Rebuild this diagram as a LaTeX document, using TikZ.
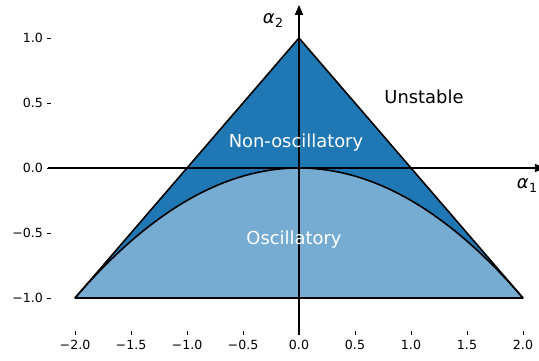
\documentclass[tikz,border=0pt]{standalone}
\usepackage{fontspec}
\setmainfont{DejaVu Sans}
\usetikzlibrary{arrows.meta}
\definecolor{cdark}{HTML}{1F77B4}
\definecolor{clight}{HTML}{76ABD2}
\tikzset{
  axisline/.style={line width=1.5pt, -{Triangle[length=10pt,width=8pt]}},
  outline/.style={line width=1.6pt, black, line join=round},
  tickmark/.style={line width=0.8pt, black},
  ticklab/.style={inner sep=0pt, font=\fontsize{12.6}{14}\selectfont},
  biglab/.style={inner sep=0pt, font=\fontsize{17.9}{20}\selectfont},
}
\newcommand{\alab}[1]{{\itshape α}\kern0.5pt\raisebox{-0.22em}{\fontsize{12.6}{14}\selectfont #1}}
\begin{document}
\begin{tikzpicture}
\useasboundingbox (0,0) rectangle (539pt,361pt);
\begin{scope}[shift={(299pt,193pt)}, x=112pt, y=130pt]
  % key points
  \coordinate (L) at (-2,-1);
  \coordinate (T) at (0,1);
  \coordinate (R) at (2,-1);
  \coordinate (xs) at (-2.241,0);
  \coordinate (xe) at (2.196,0);
  \coordinate (ys) at (0,-1.285);
  \coordinate (ye) at (0,1.255);
  % regions
  \fill[cdark] (L) -- (T) -- (R) -- cycle;
  \fill[clight] (L) .. controls (-2/3,1/3) and (2/3,1/3) .. (R) -- cycle;
  % axes
  \draw[axisline] (xs) -- (xe);
  \draw[axisline] (ys) -- (ye);
  % outlines
  \draw[outline] (L) -- (T) -- (R) -- cycle;
  \draw[outline] (L) .. controls (-2/3,1/3) and (2/3,1/3) .. (R);
  % y ticks
  \foreach \v/\t in {1/1.0, 0.5/0.5, 0/0.0, -0.5/−0.5, -1/−1.0} {
    \draw[tickmark] (-2.25,\v) -- (-2.21,\v);
    \node[ticklab, anchor=east] (yl\v) at (-2.285,\v) {\t};
  }
  % x ticks
  \foreach \v/\t in {-2/−2.0, -1.5/−1.5, -1/−1.0, -0.5/−0.5, 0/0.0, 0.5/0.5, 1/1.0, 1.5/1.5, 2/2.0} {
    \draw[tickmark] (\v,-1.252) -- (\v,-1.285);
    \node[ticklab] (xl\v) at (\v,-1.362) {\t};
  }
  % labels
  \node[biglab] (a2) at (-0.232,1.138) {\alab{2}};
  \node[biglab] (a1) at (2.036,-0.138) {\alab{1}};
  \node[biglab] (unst) at (1.116,0.546) {Unstable};
  \node[biglab, text=white] (nonosc) at (-0.027,0.192) {Non-oscillatory};
  \node[biglab, text=white] (osc) at (-0.045,-0.554) {Oscillatory};
\end{scope}
\end{tikzpicture}
\end{document}
